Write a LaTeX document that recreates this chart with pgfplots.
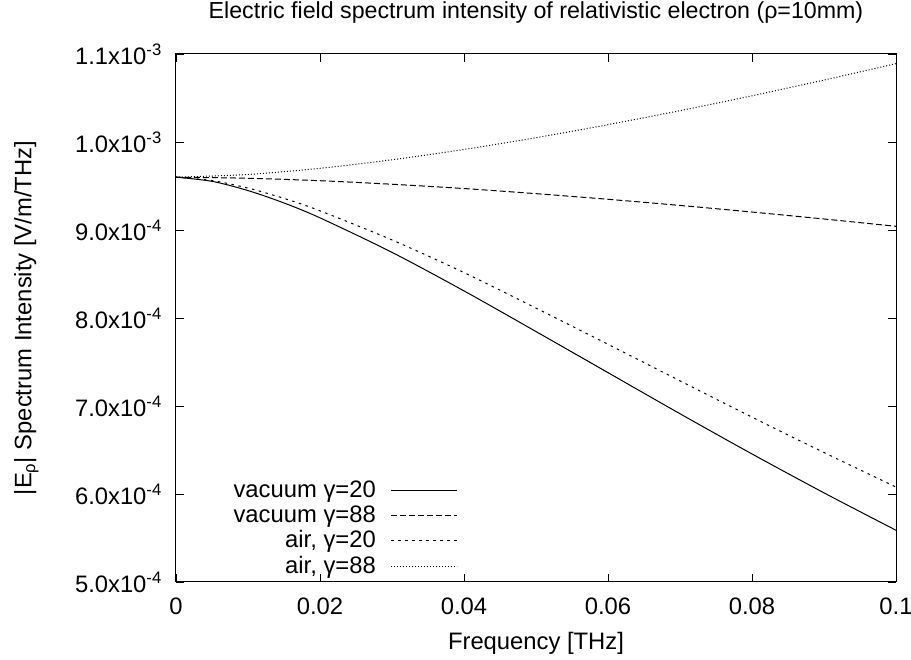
\documentclass[border=0pt]{standalone}
\usepackage{pgfplots}
\pgfplotsset{compat=1.18}
\usepackage{fontspec}
\setmainfont{Liberation Sans}
\begin{document}
\fontsize{23.8}{28}\selectfont
\begin{tikzpicture}
\path[use as bounding box] (-176pt,-78pt) rectangle (735pt,582pt);
\begin{axis}[
  at={(0pt,0pt)}, anchor=south west,
  scale only axis, width=720pt, height=528pt,
  xmin=0, xmax=0.1, ymin=5e-4, ymax=1.1e-3,
  xtick={0,0.02,0.04,0.06,0.08,0.1},
  xticklabels={0,0.02,0.04,0.06,0.08,0.1},
  ytick={5e-4,6e-4,7e-4,8e-4,9e-4,1e-3,1.1e-3},
  yticklabels={5.0x10\textsuperscript{-4},6.0x10\textsuperscript{-4},7.0x10\textsuperscript{-4},8.0x10\textsuperscript{-4},9.0x10\textsuperscript{-4},1.0x10\textsuperscript{-3},1.1x10\textsuperscript{-3}},
  scaled y ticks=false,
  tick align=inside, major tick length=8pt,
  tick style={black, line width=0.8pt},
  axis line style={line width=1pt},
  xticklabel style={anchor=north, inner sep=0pt, yshift=-16pt},
  yticklabel style={anchor=east, inner sep=0pt, xshift=-14pt},
  xlabel={Frequency [THz]},
  xlabel style={at={(axis description cs:0.5,-0.0947)}, anchor=north, inner sep=0pt},
  ylabel={|E\textsubscript{ρ}| Spectrum Intensity [V/m/THz]},
  ylabel style={at={(axis description cs:-0.2250,0.5)}, anchor=north, inner sep=0pt},
  title={Electric field spectrum intensity of relativistic electron (ρ=10mm)},
  title style={at={(axis description cs:0.5,1)}, anchor=base, inner sep=0pt, yshift=29pt, xshift=0pt, font=\fontsize{23.2}{27}\selectfont},
  legend plot pos=right,
  legend cell align=right,
  legend image code/.code={\path (0pt,2pt); \draw[#1] (15pt,2pt) -- (81pt,2pt);},
  legend style={at={(axis description cs:0.3917,0.1932)}, anchor=north east, draw=none, fill=none, inner sep=0pt, row sep=1.3pt,
    nodes={inner sep=0pt, text height=17pt, text depth=7pt}},
  every axis plot/.append style={line width=1pt, black},
]
\addplot[smooth] coordinates {
(0,9.600e-4) (0.005,9.553e-4) (0.01,9.448e-4) (0.015,9.307e-4) (0.02,9.138e-4)
(0.03,8.746e-4) (0.04,8.308e-4) (0.05,7.846e-4) (0.06,7.379e-4) (0.07,6.912e-4)
(0.08,6.455e-4) (0.09,6.013e-4) (0.1,5.588e-4)};
\addlegendentry{vacuum γ=20}
\addplot[smooth, dash pattern=on 6pt off 3pt] coordinates {
(0,9.600e-4) (0.01,9.588e-4) (0.02,9.560e-4) (0.03,9.520e-4) (0.04,9.471e-4)
(0.05,9.413e-4) (0.06,9.349e-4) (0.07,9.279e-4) (0.08,9.204e-4) (0.09,9.125e-4) (0.1,9.042e-4)};
\addlegendentry{vacuum γ=88}
\addplot[smooth, dash pattern=on 2.5pt off 4.5pt] coordinates {
(0,9.600e-4) (0.005,9.562e-4) (0.01,9.476e-4) (0.015,9.359e-4) (0.02,9.218e-4)
(0.03,8.887e-4) (0.04,8.516e-4) (0.05,8.112e-4) (0.06,7.701e-4) (0.07,7.286e-4)
(0.08,6.873e-4) (0.09,6.471e-4) (0.1,6.079e-4)};
\addlegendentry{air, γ=20}
\addplot[smooth, dash pattern=on 1pt off 2pt] coordinates {
(0,9.600e-4) (0.01,9.631e-4) (0.02,9.701e-4) (0.03,9.798e-4) (0.04,9.915e-4)
(0.05,10.049e-4) (0.06,10.197e-4) (0.07,10.356e-4) (0.08,10.525e-4) (0.09,10.704e-4) (0.1,10.890e-4)};
\addlegendentry{air, γ=88}
\end{axis}
\end{tikzpicture}
\end{document}
